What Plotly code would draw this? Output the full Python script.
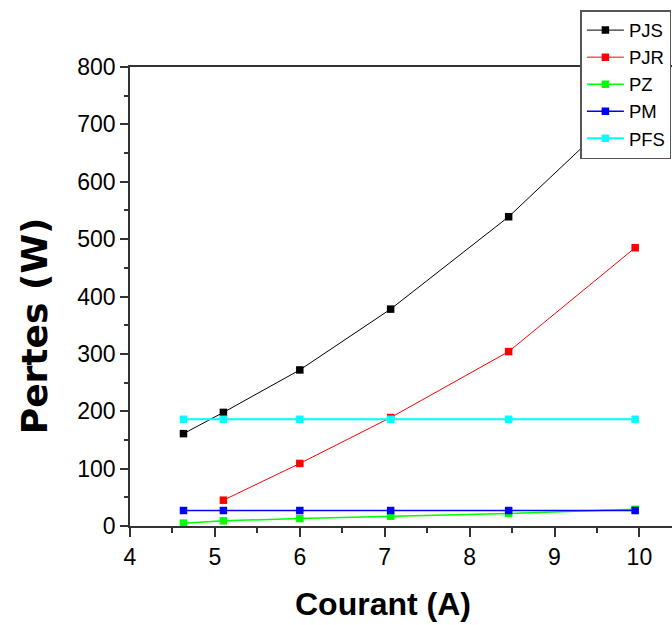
import plotly.graph_objects as go

# Current (A) at each operating point
courant = [4.63, 5.10, 6.00, 7.07, 8.46, 9.95]

# Losses (W)
pjs = [161, 198, 272, 378, 539, 747]
pjr = [None, 45, 109, 189, 304, 485]
pz = [5, 9, 13, 17, 22, 29]
pm = [27, 27, 27, 27, 27, 27]
pfs = [186, 186, 186, 186, 186, 186]

series = [
    ("PJS", pjs, "#000000", 1.0),
    ("PJR", pjr, "#ff0000", 1.0),
    ("PZ", pz, "#00ff00", 1.5),
    ("PM", pm, "#0000ff", 1.5),
    ("PFS", pfs, "#00ffff", 2.0),
]

FONT = "Liberation Sans, Arial, sans-serif"
WIDE_BOLD = "DejaVu Sans, Verdana, sans-serif"

fig = go.Figure()
for name, vals, color, lw in series:
    fig.add_trace(go.Scatter(
        x=courant, y=vals, name=name, mode="lines+markers",
        line=dict(color=color, width=lw),
        marker=dict(symbol="square", size=7.5, color=color, line=dict(width=0)),
        connectgaps=False,
    ))

axis_common = dict(
    showline=True, linecolor="#333333", linewidth=1.8,
    ticks="outside", tickcolor="#333333", tickwidth=1.5,
    showgrid=False, zeroline=False,
    tickfont=dict(family=FONT, size=23, color="#000000"),
)

fig.update_xaxes(
    range=[4, 10.384], tickvals=[4, 5, 6, 7, 8, 9, 10], ticklen=9,
    minor=dict(ticks="outside", ticklen=5, tickcolor="#333333", tickwidth=1.5, dtick=0.5, tick0=4),
    mirror=True,
    **axis_common,
)
fig.update_yaxes(
    range=[0, 800], tickvals=[0, 100, 200, 300, 400, 500, 600, 700, 800], ticklen=8,
    minor=dict(ticks="outside", ticklen=4, tickcolor="#333333", tickwidth=1.5, dtick=50, tick0=0),
    **axis_common,
)

fig.update_layout(
    width=672, height=625,
    margin=dict(l=130, r=0, t=67, b=99, pad=0),
    paper_bgcolor="white", plot_bgcolor="white",
    font=dict(family=FONT, color="#000000"),
    showlegend=True,
    legend=dict(
        x=0.831, y=1.124, xanchor="left", yanchor="top",
        bgcolor="white", bordercolor="#555555", borderwidth=1.5,
        font=dict(family=FONT, size=18.5, color="#000000"),
        itemwidth=37, tracegroupgap=0,
    ),
    annotations=[
        dict(text="Courant (A)", x=0.4668, y=-0.171, xref="paper", yref="paper",
             xanchor="center", yanchor="middle", showarrow=False,
             font=dict(family=FONT, size=32, weight="bold", color="#000000")),
        dict(text="Pertes (W)", x=-0.1762, y=0.4364, xref="paper", yref="paper",
             xanchor="center", yanchor="middle", showarrow=False, textangle=-90,
             font=dict(family=WIDE_BOLD, size=36, weight="bold", color="#000000")),
    ],
)

fig.write_html("out.html")
